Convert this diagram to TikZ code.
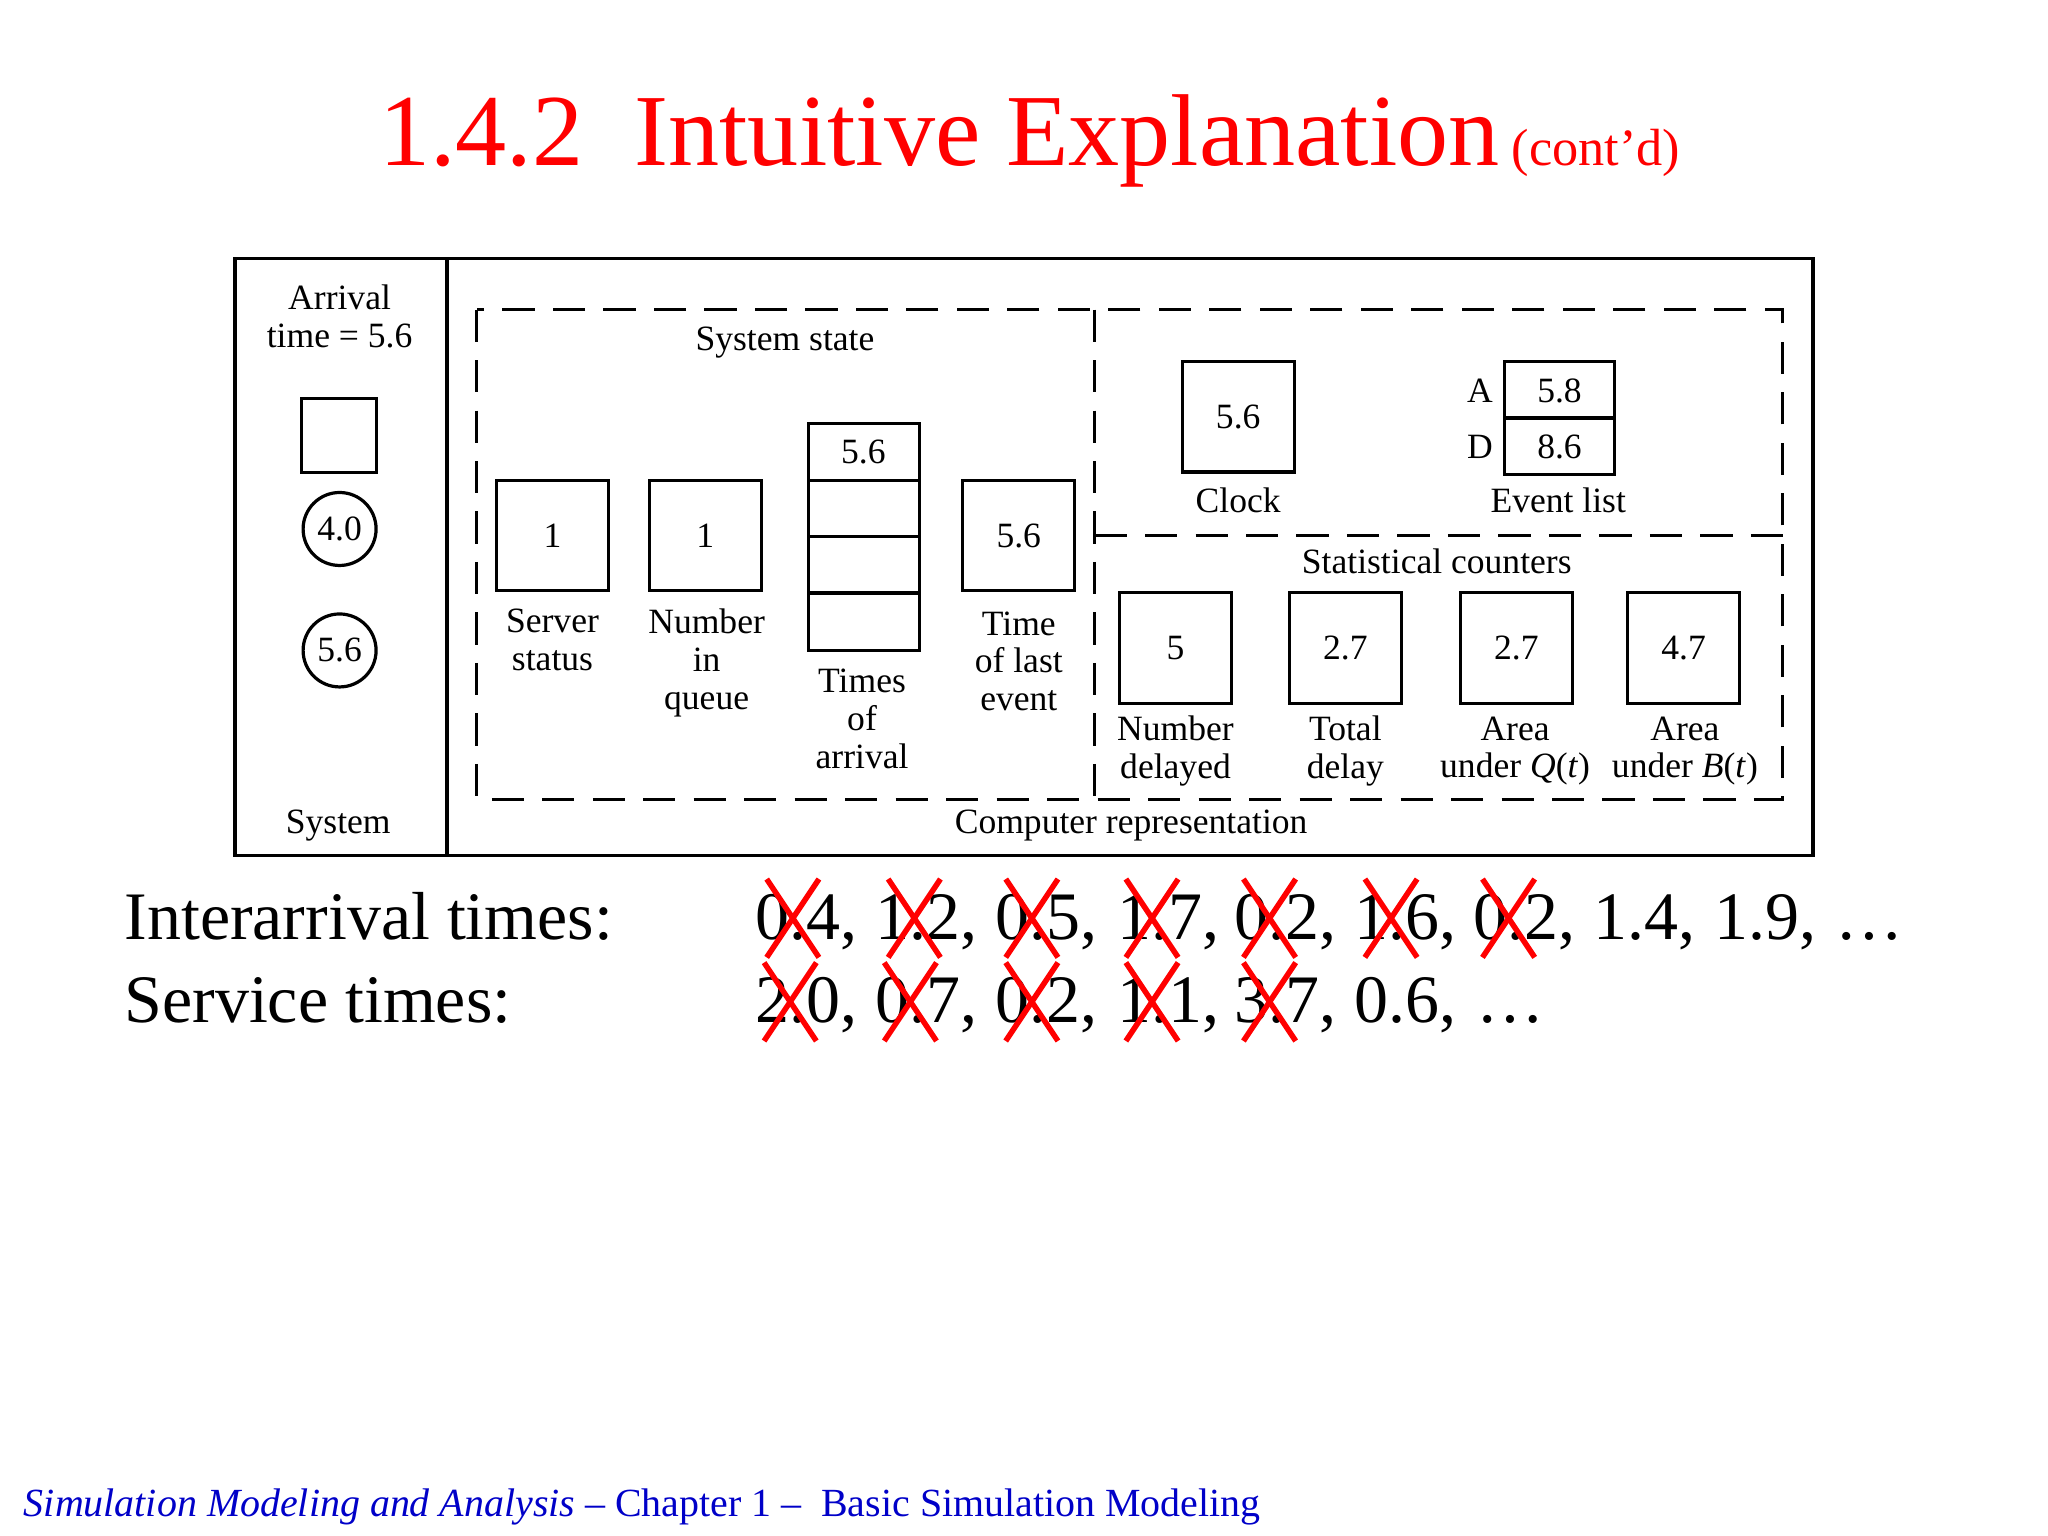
\documentclass[tikz,border=0pt]{standalone}
\usepackage{fontspec}
\setmainfont{Liberation Serif}
\begin{document}
\begin{tikzpicture}[x=0.02cm,y=-0.02cm,
  bx/.style={draw,line width=1.4pt,inner sep=0pt},
  dsh/.style={line width=1.4pt,dash pattern=on 14pt off 8pt},
  lbl/.style={font=\fontsize{15.5}{16.5}\selectfont,align=center},
  num/.style={font=\fontsize{15.5}{16}\selectfont},
  big/.style={font=\fontsize{29.6}{30}\selectfont,anchor=base west,inner sep=0pt},
  xx/.style={draw=red,line width=2.4pt}]
\useasboundingbox (0,0) rectangle (1568,1176);
% title
\node[anchor=base west,inner sep=0pt,text=red,font=\fontsize{44.5}{50}\selectfont] (title) at (290,127) {1.4.2\ \ Intuitive Explanation};
\node[anchor=base west,inner sep=0pt,text=red,font=\fontsize{22.8}{26}\selectfont] (contd) at (1157,127) {(cont'd)};
% outer boxes
\draw[line width=1.6pt] (180,198) rectangle (342,655);
\draw[line width=1.6pt] (342,198) rectangle (1388,655);
\draw[dsh] (365,237) rectangle (1365,612);
\draw[dsh] (838,237) -- (838,612);
\draw[dsh] (838,410) -- (1365,410);
% system
\node[lbl] (arr) at (260,242) {Arrival\\time = 5.6};
\draw[line width=1.4pt] (231,305) rectangle (288,362);
\node[num,draw,circle,line width=1.4pt,minimum size=31.8pt] (c1) at (260,405) {4.0};
\node[num,draw,circle,line width=1.4pt,minimum size=31.8pt] (c2) at (260,498) {5.6};
\node[lbl] (sys) at (259,632) {System};
% system state
\node[lbl] (ss) at (601,262) {System state};
\node[bx,num,minimum width=48.8pt,minimum height=48.2pt] (srv) at (423,410) {1};
\node[lbl,anchor=north] at (423,460) {Server\\status};
\node[bx,num,minimum width=48.8pt,minimum height=48.2pt] (nq) at (540,410) {1};
\node[lbl,anchor=north] at (541,460) {Number\\in\\queue};
\foreach \a/\b in {324/368,368/411,411/454,454/498}{\draw[line width=1.4pt] (619,\a) rectangle (704,\b);}
\node[num] (t1) at (661,346) {5.6};
\node[lbl,anchor=north] at (660,506) {Times\\of\\arrival};
\node[bx,num,minimum width=48.8pt,minimum height=48.2pt] (tl) at (780,410) {5.6};
\node[lbl,anchor=north] at (780,462) {Time\\of last\\event};
% clock / event list
\node[bx,num,minimum width=48.8pt,minimum height=48.2pt] (clk) at (948,319) {5.6};
\node[lbl] at (948,383) {Clock};
\draw[line width=1.4pt] (1152,277) rectangle (1236,320);
\draw[line width=1.4pt] (1152,320) rectangle (1236,363);
\node[num] (ea) at (1194,299) {5.8};
\node[num] (ed) at (1194,342) {8.6};
\node[num] at (1133,299) {A};
\node[num] at (1133,342) {D};
\node[lbl] at (1193,383) {Event list};
% statistical counters
\node[lbl] (sc) at (1100,430) {Statistical counters};
\node[bx,num,minimum width=48.8pt,minimum height=48.2pt] (s1) at (900,496) {5};
\node[bx,num,minimum width=48.8pt,minimum height=48.2pt] (s2) at (1030,496) {2.7};
\node[bx,num,minimum width=48.8pt,minimum height=48.2pt] (s3) at (1161,496) {2.7};
\node[bx,num,minimum width=48.8pt,minimum height=48.2pt] (s4) at (1289,496) {4.7};
\node[lbl] at (900,575) {Number\\delayed};
\node[lbl] at (1030,575) {Total\\delay};
\node[lbl] at (1160,575) {Area\\under \textit{Q}(\textit{t})};
\node[lbl] at (1290,575) {Area\\under \textit{B}(\textit{t})};
\node[lbl] (cr) at (866,632) {Computer representation};
% times
\node[big] (ia) at (95,719) {Interarrival times:};
\node[big] (st) at (95,783) {Service times:};
\foreach \x/\t in {578/{0.4,},670/{1.2,},762/{0.5,},855/{1.7,},945/{0.2,},1037/{1.6,},1128/{0.2,},1220/{1.4,},1312/{1.9,},1405/{\dots}}{
  \node[big] at (\x,719) {\t};}
\foreach \x/\t in {578/{2.0,},670/{0.7,},762/{0.2,},855/{1.1,},945/{3.7,},1037/{0.6,},1130/{\dots}}{
  \node[big] at (\x,783) {\t};}
\foreach \x in {607,700,790,882,972,1065,1155}{
  \draw[xx] (\x-20,673) -- (\x+20,733); \draw[xx] (\x+20,673) -- (\x-20,733);}
\foreach \x in {605,697,790,882,972}{
  \draw[xx] (\x-20,737) -- (\x+20,797); \draw[xx] (\x+20,737) -- (\x-20,797);}
% footer
\node[anchor=base west,inner sep=0pt,text={rgb,255:red,0;green,0;blue,200},font=\fontsize{17.4}{20}\selectfont] (ft) at (18,1161) {\textit{Simulation Modeling and Analysis} -- Chapter 1 --\ \ Basic Simulation Modeling};
\end{tikzpicture}
\end{document}
